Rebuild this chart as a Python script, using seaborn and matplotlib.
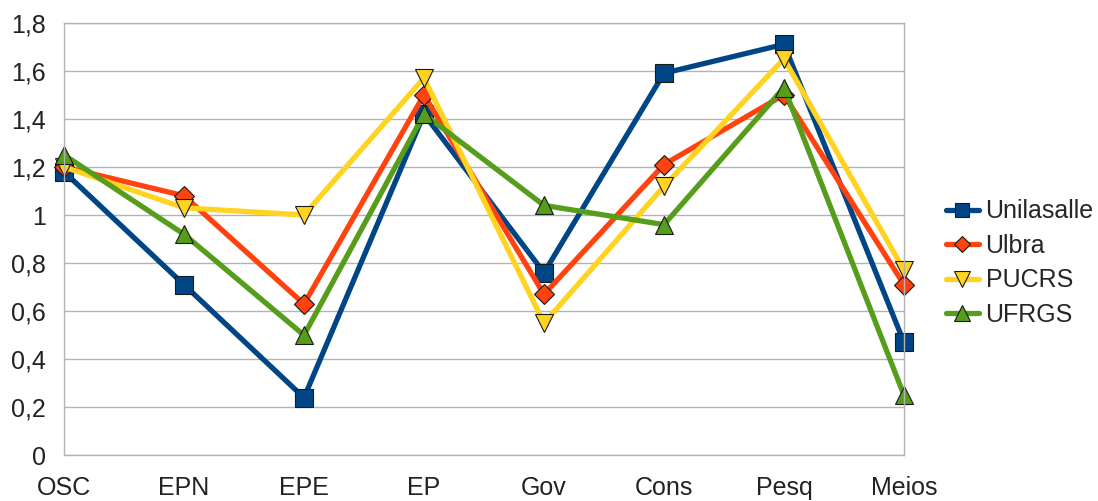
import matplotlib
matplotlib.use("Agg")
import matplotlib.pyplot as plt
import seaborn as sns
import pandas as pd

categories = ["OSC", "EPN", "EPE", "EP", "Gov", "Cons", "Pesq", "Meios"]
unilasalle = [1.18, 0.71, 0.24, 1.42, 0.76, 1.59, 1.71, 0.47]
ulbra = [1.20, 1.08, 0.63, 1.50, 0.67, 1.21, 1.50, 0.71]
pucrs = [1.20, 1.03, 1.00, 1.57, 0.55, 1.12, 1.65, 0.77]
ufrgs = [1.25, 0.92, 0.50, 1.42, 1.04, 0.96, 1.53, 0.25]
series_names = ["Unilasalle", "Ulbra", "PUCRS", "UFRGS"]
y_ticks = [0, 0.2, 0.4, 0.6, 0.8, 1.0, 1.2, 1.4, 1.6, 1.8]

series_values = [unilasalle, ulbra, pucrs, ufrgs]
rows = []
for name, vals in zip(series_names, series_values):
    for i, (c, v) in enumerate(zip(categories, vals)):
        rows.append({"pos": i, "cat": c, "value": v, "series": name})
df = pd.DataFrame(rows)

sns.set_style("white")
plt.rcParams["font.family"] = ["Liberation Sans", "DejaVu Sans"]

colors = {"Unilasalle": "#004586", "Ulbra": "#ff420e", "PUCRS": "#ffd320", "UFRGS": "#579d1c"}
markers = {"Unilasalle": "s", "Ulbra": "D", "PUCRS": "v", "UFRGS": "^"}
msizes = {"Unilasalle": 12.5, "Ulbra": 10, "PUCRS": 13, "UFRGS": 13}

fig = plt.figure(figsize=(10.98, 5.01), dpi=100)
ax = fig.add_axes([64 / 1098, 1 - 455.4 / 501, (904 - 64) / 1098, (455.4 - 22.7) / 501])

sns.lineplot(data=df, x="pos", y="value", hue="series", style="series",
             hue_order=series_names, style_order=series_names,
             palette=colors, markers=markers, dashes=False, ax=ax,
             linewidth=3.8, markeredgecolor="#1a1a1a", markeredgewidth=0.8,
             legend=True)

for line in ax.lines:
    line.set_clip_on(False)
    line.set_solid_joinstyle("round")
for line, name in zip(ax.lines, series_names):
    line.set_markersize(msizes[name])

ax.set_xlim(0, len(categories) - 1)
ax.set_ylim(0, 1.8)
ax.set_xticks(range(len(categories)))
ax.set_xticklabels(categories)
ax.set_yticks(y_ticks)
ax.set_yticklabels([f"{t:g}".replace(".", ",") for t in y_ticks])
ax.set_xlabel("")
ax.set_ylabel("")

grid_c = "#b3b3b3"
ax.yaxis.grid(True, color=grid_c, linewidth=1)
ax.xaxis.grid(False)
ax.set_axisbelow(True)
for s in ax.spines.values():
    s.set_color(grid_c)
    s.set_linewidth(1)
    s.set_visible(True)
ax.tick_params(axis="both", which="major", direction="out", length=8,
               width=1, color=grid_c, labelsize=18, labelcolor="#222222")
ax.tick_params(axis="y", pad=5)
ax.tick_params(axis="x", length=9, pad=6)

handles, labels = ax.get_legend_handles_labels()
for h, name in zip(handles, series_names):
    h.set_markersize(msizes[name] * 0.85)
    h.set_linewidth(3.8)
ax.legend(handles, labels, loc="center left",
          bbox_to_anchor=(946 / 1098, 1 - 263 / 501), bbox_transform=fig.transFigure,
          frameon=False, fontsize=18, handlelength=1.3, handletextpad=0.28,
          labelspacing=0.42, borderpad=0, borderaxespad=0)

fig.savefig("out.png", dpi=100)
